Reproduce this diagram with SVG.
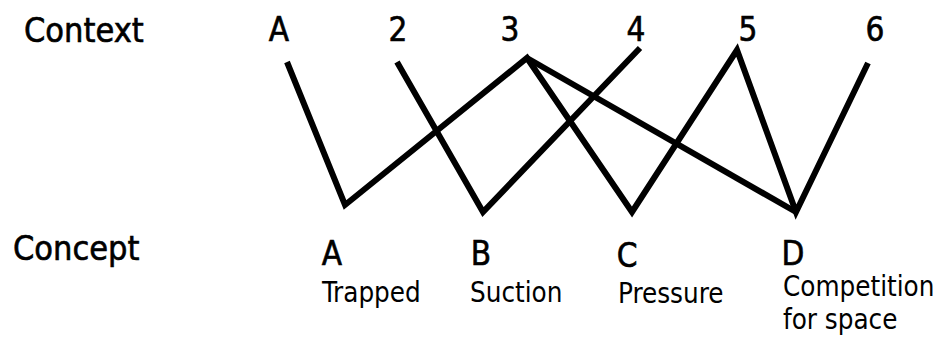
<svg xmlns="http://www.w3.org/2000/svg" width="940" height="339" viewBox="0 0 940 339">
  <style>
    text { font-family: "DejaVu Sans Condensed", "DejaVu Sans", "Liberation Sans", sans-serif; fill: #000; }
    .row { font-size: 34px; stroke: #000; stroke-width: 0.6; }
    .key { font-size: 33px; text-anchor: middle; stroke: #000; stroke-width: 0.6; }
    .sub { font-size: 27.5px; }
    .link { fill: none; stroke: #000; stroke-width: 6; stroke-linejoin: miter; stroke-linecap: butt; }
  </style>
  <rect width="940" height="339" fill="#fff"/>

  <!-- row headings -->
  <g id="heading-context"><text class="row" x="24" y="42">Context</text></g>
  <g id="heading-concept"><text class="row" x="13" y="260">Concept</text></g>

  <!-- context nodes (top row) -->
  <g id="ctx-A"><text class="key" x="279" y="41">A</text></g>
  <g id="ctx-2"><text class="key" x="398" y="41">2</text></g>
  <g id="ctx-3"><text class="key" x="510" y="41">3</text></g>
  <g id="ctx-4"><text class="key" x="636" y="41">4</text></g>
  <g id="ctx-5"><text class="key" x="748" y="41">5</text></g>
  <g id="ctx-6"><text class="key" x="875" y="41">6</text></g>

  <!-- concept nodes (bottom row) -->
  <g id="concept-A">
    <text class="key" x="332" y="265">A</text>
    <text class="sub" x="322" y="302">Trapped</text>
  </g>
  <g id="concept-B">
    <text class="key" x="481" y="265">B</text>
    <text class="sub" x="470" y="302">Suction</text>
  </g>
  <g id="concept-C">
    <text class="key" x="627" y="267">C</text>
    <text class="sub" x="618" y="303">Pressure</text>
  </g>
  <g id="concept-D">
    <text class="key" x="793" y="265">D</text>
    <text class="sub" x="783" y="296">Competition</text>
    <text class="sub" x="783" y="329">for space</text>
  </g>

  <!-- connectors -->
  <g id="connectors">
    <path class="link" d="M287,62 L345,205 L527,58 L632,212 L737,50 L796,212 L868,63"/>
    <path class="link" d="M397,62 L483,212 L640,48"/>
    <path class="link" d="M527,58 L796,212"/>
  </g>
</svg>
